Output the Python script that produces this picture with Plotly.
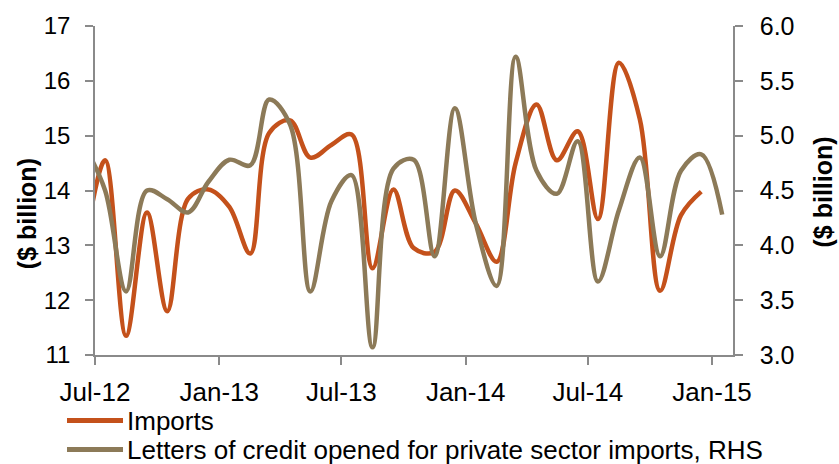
import plotly.graph_objects as go

# Monthly observations (dated mid-month), Jun-12 to Jan-15
months = [
    "2012-06", "2012-07", "2012-08", "2012-09", "2012-10", "2012-11", "2012-12",
    "2013-01", "2013-02", "2013-03", "2013-04", "2013-05", "2013-06", "2013-07",
    "2013-08", "2013-09", "2013-10", "2013-11", "2013-12", "2014-01", "2014-02",
    "2014-03", "2014-04", "2014-05", "2014-06", "2014-07", "2014-08", "2014-09",
    "2014-10", "2014-11", "2014-12", "2015-01",
]

# Imports, $ billion (left axis)
imports = [
    13.0, 14.55, 11.35, 13.6, 11.8, 13.85, 14.02,
    13.7, 12.85, 15.05, 15.28, 14.6, 14.83, 15.02,
    12.58, 14.02, 12.95, 12.88, 14.0, 13.4, 12.7,
    14.5, 15.57, 14.55, 15.08, 13.48, 16.33, 15.3,
    12.17, 13.55, 13.98, None,
]

# Letters of credit opened for private sector imports, $ billion (right axis)
lc_opened = [
    4.9, 4.5, 3.58, 4.5, 4.42, 4.3, 4.58,
    4.78, 4.73, 5.33, 5.1, 3.58, 4.4, 4.64,
    3.07, 4.7, 4.78, 3.9, 5.25, 4.2, 3.63,
    5.72, 4.68, 4.47, 4.95, 3.67, 4.32, 4.8,
    3.9, 4.68, 4.83, 4.28,
]

series_names = ["Imports", "Letters of credit opened for private sector imports, RHS"]
left_ticks = [11, 12, 13, 14, 15, 16, 17]
right_ticks = [3.0, 3.5, 4.0, 4.5, 5.0, 5.5, 6.0]

dates = [m + "-16" for m in months]

ORANGE = "#C4511B"
TAN = "#8C7A58"
AXIS = "#8A8A8A"
FONT = "Liberation Sans, Arial, sans-serif"

W, H = 839, 464
ML, MR, MT, MB = 95, 106, 21, 109
PW, PH = W - ML - MR, H - MT - MB


def px_x(px):
    """Pixel column -> paper x."""
    return (px - ML) / PW


def px_y(py):
    """Pixel row -> paper y."""
    return (H - MB - py) / PH


fig = go.Figure()
fig.add_trace(go.Scatter(
    x=dates, y=imports, name=series_names[0], mode="lines",
    line=dict(color=ORANGE, width=4.5, shape="spline", smoothing=1.0),
    connectgaps=False, showlegend=False,
))
fig.add_trace(go.Scatter(
    x=dates, y=lc_opened, name=series_names[1],
    mode="lines", yaxis="y2", showlegend=False,
    line=dict(color=TAN, width=4.5, shape="spline", smoothing=1.0),
))

axis_common = dict(
    showgrid=False, zeroline=False,
    showline=True, linecolor=AXIS, linewidth=1.5,
    ticks="outside", ticklen=8, tickwidth=1.5, tickcolor=AXIS,
)

# Legend block below the x axis: a short coloured bar followed by the series name
legend_shapes = []
legend_notes = []
for name, color, row_y in zip(series_names, [ORANGE, TAN], [421.5, 451]):
    legend_shapes.append(dict(
        type="line", xref="paper", yref="paper",
        x0=px_x(67), x1=px_x(123), y0=px_y(row_y), y1=px_y(row_y),
        line=dict(color=color, width=5),
    ))
    legend_notes.append(dict(
        text=name, xref="paper", yref="paper",
        x=px_x(125), y=px_y(row_y + 0.5), xanchor="left", yanchor="middle",
        showarrow=False, font=dict(size=26), align="left",
    ))

fig.update_layout(
    width=W, height=H,
    margin=dict(l=ML, r=MR, t=MT, b=MB),
    paper_bgcolor="white", plot_bgcolor="white",
    font=dict(family=FONT, size=24, color="black"),
    showlegend=False,
    xaxis=dict(
        type="date",
        range=["2012-07-01", "2015-02-01"],
        tick0="2012-07-01", dtick="M6", tickformat="%b-%y",
        ticklabelstandoff=5,
        tickfont=dict(size=26),
        **axis_common,
    ),
    yaxis=dict(
        range=[11, 17], tickvals=left_ticks,
        ticklabelstandoff=10,
        tickfont=dict(size=24),
        **axis_common,
    ),
    yaxis2=dict(
        range=[3, 6], tickvals=right_ticks, tickformat=".1f",
        overlaying="y", side="right",
        ticklabelstandoff=12,
        tickfont=dict(size=25),
        **axis_common,
    ),
    shapes=legend_shapes,
    annotations=[
        dict(text="<b>($ billion)</b>", textangle=-90, xref="paper", yref="paper",
             x=px_x(27), y=px_y(212), xanchor="center", yanchor="middle",
             showarrow=False, font=dict(size=25)),
        dict(text="<b>($ billion)</b>", textangle=-90, xref="paper", yref="paper",
             x=px_x(823), y=px_y(190), xanchor="center", yanchor="middle",
             showarrow=False, font=dict(size=25)),
    ] + legend_notes,
)

fig.write_html("out.html")
